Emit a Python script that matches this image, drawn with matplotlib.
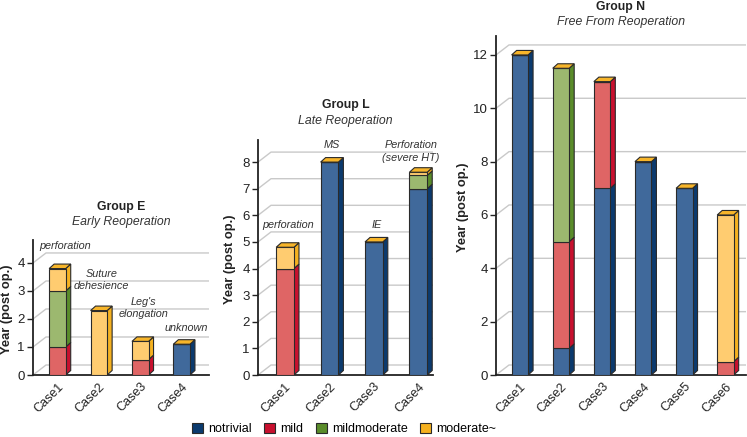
import matplotlib
matplotlib.use("Agg")
import matplotlib.pyplot as plt
from matplotlib.patches import Polygon, Patch
import numpy as np

plt.rcParams['font.family'] = ['Liberation Sans', 'DejaVu Sans']

# ---------------- data ----------------
levels = ["notrivial", "mild", "mildmoderate", "moderate~"]

E_cases = ["Case1", "Case2", "Case3", "Case4"]
E_notrivial = [0, 0, 0, 1.1]
E_mild = [1.0, 0, 0.55, 0]
E_mildmod = [2.0, 0, 0, 0]
E_moderate = [0.8, 2.3, 0.65, 0]
E_notes = ["perforation", "Suture\ndehesience", "Leg's\nelongation", "unknown"]

L_cases = ["Case1", "Case2", "Case3", "Case4"]
L_notrivial = [0, 8, 5, 7]
L_mild = [4, 0, 0, 0]
L_mildmod = [0, 0, 0, 0.5]
L_moderate = [0.8, 0, 0, 0.12]
L_notes = ["perforation", "MS", "IE", "Perforation\n(severe HT)"]

N_cases = ["Case1", "Case2", "Case3", "Case4", "Case5", "Case6"]
N_notrivial = [12, 1, 7, 8, 7, 0]
N_mild = [0, 4, 4, 0, 0, 0.5]
N_mildmod = [0, 6.5, 0, 0, 0, 0]
N_moderate = [0, 0, 0, 0, 0, 5.5]

# ---------------- style ----------------
front_cols = ["#40699b", "#df6565", "#9cb86f", "#ffcc70"]
side_cols = ["#0b3a6e", "#c8102e", "#5a8c2a", "#f5b120"]
top_col = "#f7b52a"
edge = "#2a2a2a"
grid_col = "#c9c9c9"
DPI = 100

fig = plt.figure(figsize=(7.47, 4.37), dpi=DPI)
W, H = 747, 437


def make_ax(x0, x1, ytop, ybot=375):
    return fig.add_axes([x0 / W, (H - ybot) / H, (x1 - x0) / W, (ybot - ytop) / H])


def draw_group(ax, cases, series, xlim, ylim, yticks, grid_vals, title, subtitle,
               notes, note_pos, title_y, sub_y, ylab_x):
    ax.set_xlim(*xlim)
    ax.set_ylim(*ylim)
    bb = ax.get_position()
    ax_w_px = bb.width * W
    ax_h_px = bb.height * H
    ux = (xlim[1] - xlim[0]) / ax_w_px
    uy = (ylim[1] - ylim[0]) / ax_h_px

    # back-wall gridlines
    wdx, wdy = 13 * ux, 10 * uy
    for v in grid_vals:
        ax.plot([xlim[0], xlim[0] + wdx, xlim[1]], [v, v + wdy, v + wdy],
                color=grid_col, lw=1.0, zorder=0, clip_on=False, solid_capstyle='butt')

    x = np.arange(len(cases))
    bw = 0.4
    ddx, ddy = 5 * ux, 4.5 * uy
    bottom = np.zeros(len(cases))
    for k, vals in enumerate(series):
        vals = np.asarray(vals, dtype=float)
        ax.bar(x, vals, bw, bottom=bottom, color=front_cols[k], edgecolor=edge,
               linewidth=0.8, zorder=3)
        for i in range(len(cases)):
            if vals[i] <= 0:
                continue
            xr = x[i] + bw / 2
            y0, y1 = bottom[i], bottom[i] + vals[i]
            ax.add_patch(Polygon([[xr, y0], [xr + ddx, y0 + ddy], [xr + ddx, y1 + ddy], [xr, y1]],
                                 closed=True, facecolor=side_cols[k], edgecolor=edge,
                                 linewidth=0.8, zorder=2.5))
        bottom = bottom + vals
    for i in range(len(cases)):
        xl, xr = x[i] - bw / 2, x[i] + bw / 2
        t = bottom[i]
        ax.add_patch(Polygon([[xl, t], [xl + ddx, t + ddy], [xr + ddx, t + ddy], [xr, t]],
                             closed=True, facecolor=top_col, edgecolor=edge,
                             linewidth=0.8, zorder=4))

    for s in ["top", "right"]:
        ax.spines[s].set_visible(False)
    for s in ["left", "bottom"]:
        ax.spines[s].set_color("#222222")
        ax.spines[s].set_linewidth(1.3)
    ax.set_yticks(yticks)
    ax.set_yticklabels([str(v) for v in yticks])
    ax.tick_params(axis='y', length=4, width=1.0, labelsize=9.5, colors="#222222", pad=2)
    ax.set_xticks(x)
    ax.set_xticklabels(cases, rotation=45, ha='right', rotation_mode='anchor')
    ax.tick_params(axis='x', length=0, labelsize=9, colors="#222222", pad=4)
    ax.patch.set_alpha(0)

    fig.text(ylab_x, (bb.y0 + bb.y1) / 2 - 2 / H, "Year (post op.)",
             rotation=90, ha='center', va='center', fontsize=9.3, fontweight='bold',
             color="#222222")

    cx = (bb.x0 + bb.x1) / 2
    fig.text(cx, 1 - title_y / H, title, ha='center', va='center', fontsize=8.8,
             fontweight='bold', color="#222222")
    fig.text(cx, 1 - sub_y / H, subtitle, ha='center', va='center', fontsize=8.8,
             style='italic', color="#333333")
    for txt, (nx, ny) in zip(notes, note_pos):
        ax.text(nx, ny, txt, ha='center', va='center', fontsize=7.8, style='italic',
                color="#333333", clip_on=False, zorder=6, linespacing=1.3)


axE = make_ax(33, 209, 240)
draw_group(axE, E_cases, [E_notrivial, E_mild, E_mildmod, E_moderate],
           (-0.59, 3.66), (0, 4.82), [0, 1, 2, 3, 4], [0, 1, 2, 3, 4],
           "Group E", "Early Reoperation", E_notes,
           [(0.18, 4.6), (1.07, 3.39), (2.07, 2.39), (3.12, 1.68)],
           207, 222, 7 / W)

axL = make_ax(258, 433, 140)
draw_group(axL, L_cases, [L_notrivial, L_mild, L_mildmod, L_moderate],
           (-0.61, 3.33), (0, 8.83), list(range(0, 9)), list(range(0, 9)),
           "Group L", "Late Reoperation", L_notes,
           [(0.07, 5.64), (1.06, 8.65), (2.07, 5.64), (2.83, 8.4)],
           105, 121, 230 / W)

axN = make_ax(496, 746, 36)
draw_group(axN, N_cases, [N_notrivial, N_mild, N_mildmod, N_moderate],
           (-0.58, 5.5), (0, 12.71), [0, 2, 4, 6, 8, 10, 12], [0, 2, 4, 6, 8, 10, 12],
           "Group N", "Free From Reoperation", [], [],
           7, 22, 463 / W)

handles = [Patch(facecolor=side_cols[k], edgecolor=edge, linewidth=0.8, label=levels[k])
           for k in range(4)]
fig.legend(handles=handles, loc='center', bbox_to_anchor=(344 / W, 1 - 429 / H), ncol=4,
           frameon=False, fontsize=9, handlelength=0.9, handleheight=0.9,
           handletextpad=0.4, columnspacing=1.0, borderaxespad=0)

fig.savefig("out.png", dpi=DPI)
